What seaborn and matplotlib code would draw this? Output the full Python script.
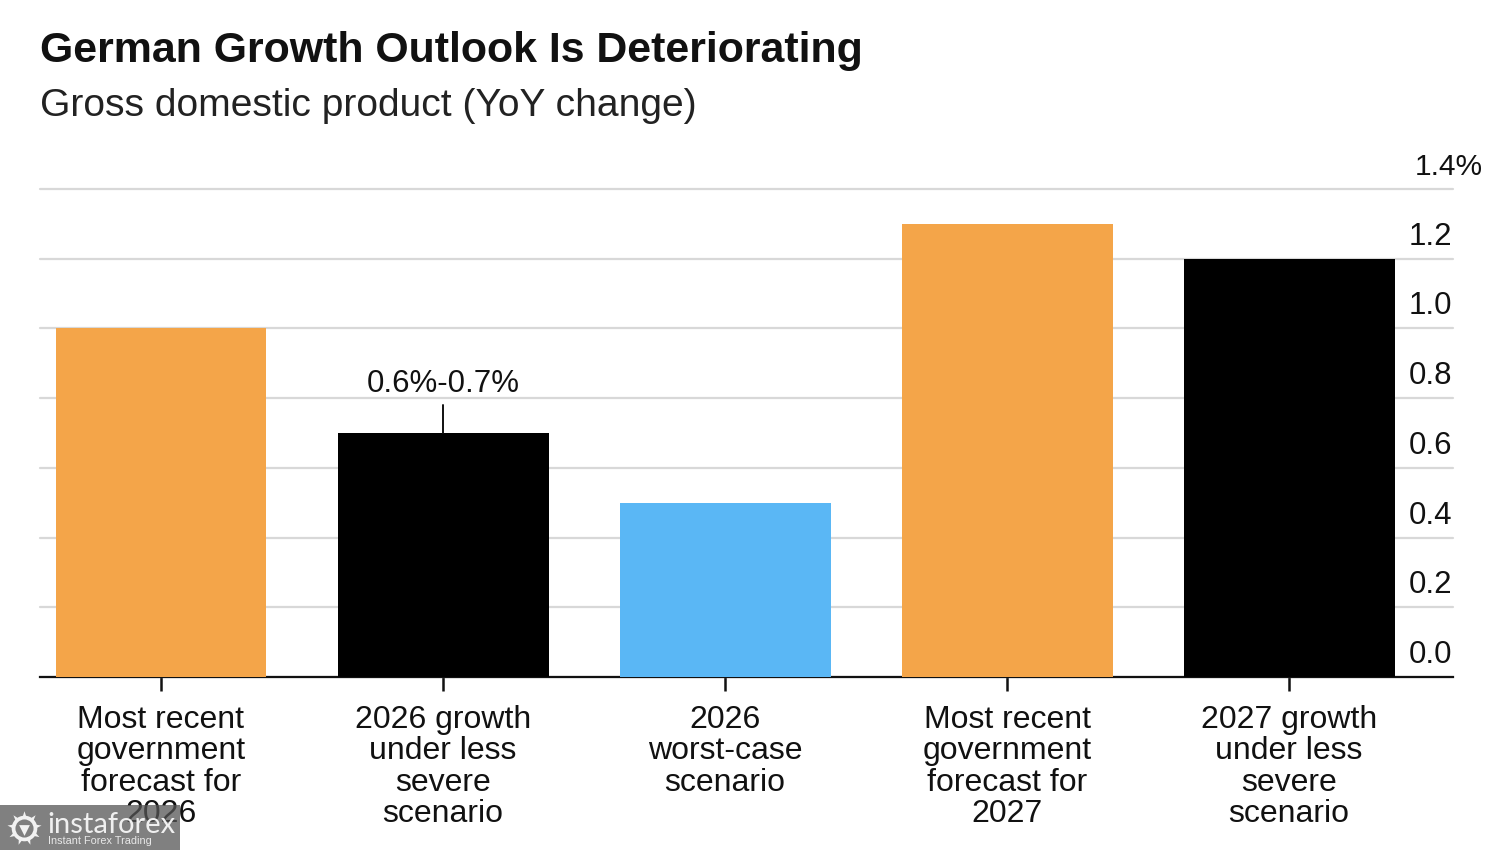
"""German growth outlook bar chart."""

import matplotlib.pyplot as plt
import matplotlib.transforms as mtransforms
from matplotlib.patches import Rectangle
import pandas as pd
import seaborn as sns

categories = [
    'Most recent\ngovernment\nforecast for\n2026',
    '2026 growth\nunder less\nsevere\nscenario',
    '2026\nworst-case\nscenario',
    'Most recent\ngovernment\nforecast for\n2027',
    '2027 growth\nunder less\nsevere\nscenario',
]
gdp_growth = [1.0, 0.7, 0.5, 1.3, 1.2]
groups = ['government', 'less severe', 'worst case', 'government', 'less severe']
y_ticks = [0.0, 0.2, 0.4, 0.6, 0.8, 1.0, 1.2, 1.4]
y_labels = ['0.0', '0.2', '0.4', '0.6', '0.8', '1.0', '1.2', '1.4%']
range_label = '0.6%-0.7%'

palette = {'government': '#f4a549', 'less severe': '#000000', 'worst case': '#5ab7f5'}

sns.set_style('white')
plt.rcParams['font.family'] = ['Liberation Sans', 'DejaVu Sans']

df = pd.DataFrame({'category': categories, 'growth': gdp_growth, 'group': groups})

fig = plt.figure(figsize=(15, 8.5), dpi=100)
ax = fig.add_axes([40 / 1500, 1 - 677 / 850, 1413 / 1500, 488 / 850])

sns.barplot(data=df, x='category', y='growth', hue='group', palette=palette,
            dodge=False, width=0.748, saturation=1, legend=False, linewidth=0, zorder=3, ax=ax)

ax.set_xlim(-0.429, 4.581)
ax.set_ylim(0, 1.4)
ax.set_xlabel('')
ax.set_ylabel('')

# grid sits behind the bars, labels sit just above each line
ax.yaxis.tick_right()
ax.set_yticks(y_ticks)
ax.set_yticklabels(y_labels)
ax.grid(axis='y', color='#d8d8d8', linewidth=1.6, zorder=0, clip_on=False)
ax.set_axisbelow(True)
ax.tick_params(axis='y', length=0, pad=0, labelsize=22.5, labelcolor='#111111')
offset = mtransforms.ScaledTranslation(-1 / 100, 7 / 100, fig.dpi_scale_trans)
for label in ax.get_yticklabels():
    label.set_transform(label.get_transform() + offset)
    label.set_ha('right')
    label.set_va('bottom')
top_label = ax.get_yticklabels()[-1]
top_label.set_ha('left')
top_label.set_fontsize(21.5)
top_label.set_transform(top_label.get_transform() + mtransforms.ScaledTranslation(-37 / 100, 1 / 100, fig.dpi_scale_trans))

ax.tick_params(axis='x', bottom=True, length=10, width=1.8, color='#111111', pad=10,
               labelsize=23, labelcolor='#111111')
for label in ax.get_xticklabels():
    label.set_linespacing(1.06)
    label.set_va('top')

sns.despine(ax=ax, left=True, right=True, top=True)
ax.spines['bottom'].set_color('#111111')
ax.spines['bottom'].set_linewidth(1.6)

# range marker on the second bar
ax.plot([1, 1], [0.7, 0.78], color='#111111', linewidth=1.4, zorder=4)
ax.text(1, 0.797, range_label, ha='center', va='bottom', fontsize=22.5, color='#111111')

fig.text(40 / 1500, 1 - 51 / 850, 'German Growth Outlook Is Deteriorating', fontsize=30.9,
         fontweight='bold', color='#111111', va='center', ha='left')
fig.text(40 / 1500, 1 - 106 / 850, 'Gross domestic product (YoY change)', fontsize=28.1,
         color='#222222', va='center', ha='left')

# watermark box, bottom left corner
fig.add_artist(Rectangle((0, 0), 180 / 1500, 45 / 850, transform=fig.transFigure,
                         facecolor='#555555', alpha=0.75, edgecolor='none', zorder=10))
fig.text(47 / 1500, 1 - 825 / 850, 'instaforex', fontsize=21, color='#f0f0f0',
         va='center', ha='left', zorder=11, family=['Lato', 'DejaVu Sans'])
fig.text(48 / 1500, 1 - 841 / 850, 'Instant Forex Trading', fontsize=7.8, color='#e8e8e8',
         va='center', ha='left', zorder=11)
logo = fig.add_axes([6 / 1500, 1 - 846 / 850, 36 / 1500, 36 / 850], zorder=12)
logo.axis('off')
logo.set_xlim(-1, 1)
logo.set_ylim(-1, 1)
logo.scatter([0], [0], s=620, marker=(9, 1, 0), color='#f2f2f2', linewidths=0)
logo.scatter([0], [0], s=340, marker='o', color='#f2f2f2', linewidths=0)
logo.scatter([0], [0], s=170, marker='o', color='#7f7f7f', linewidths=0)
logo.scatter([0], [-0.1], s=60, marker='v', color='#f2f2f2', linewidths=0)

fig.savefig('out.png', dpi=100)
